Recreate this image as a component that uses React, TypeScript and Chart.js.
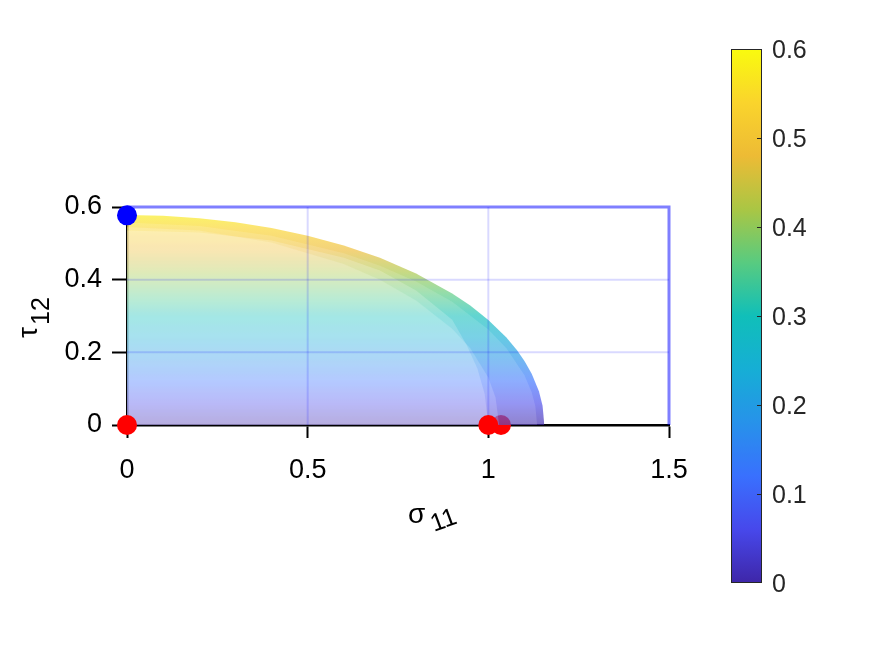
import { useEffect, useRef } from "react";
import { Chart, registerables } from "chart.js";
Chart.register(...registerables);

// ---- data ----
const xTicks = [0, 0.5, 1, 1.5];
const yTicks = [0, 0.2, 0.4, 0.6];
const colorbarTicks = [0, 0.1, 0.2, 0.3, 0.4, 0.5, 0.6];

// outermost envelope
const outerSigma = [0, 0.1, 0.2, 0.3, 0.4, 0.5, 0.6, 0.7, 0.8, 0.9, 0.95, 1.0, 1.05, 1.08, 1.1, 1.12, 1.14, 1.15, 1.155];
const outerTau = [0.578, 0.576, 0.569, 0.558, 0.542, 0.521, 0.494, 0.46, 0.417, 0.362, 0.329, 0.289, 0.241, 0.205, 0.176, 0.141, 0.093, 0.054, 0];

// second envelope
const secondSigma = [0, 0.2, 0.4, 0.6, 0.7, 0.8, 0.9, 1.0, 1.05, 1.1, 1.12, 1.13, 1.135];
const secondTau = [0.557, 0.548, 0.521, 0.473, 0.438, 0.395, 0.339, 0.263, 0.211, 0.137, 0.09, 0.052, 0];

// third envelope
const thirdSigma = [0, 0.2, 0.4, 0.6, 0.7, 0.8, 0.9, 0.95, 1.0, 1.02, 1.03];
const thirdTau = [0.545, 0.535, 0.502, 0.443, 0.4, 0.343, 0.265, 0.211, 0.131, 0.076, 0];

// inner envelope
const innerSigma = [0, 0.2, 0.4, 0.6, 0.7, 0.8, 0.9, 0.94, 0.97, 0.99, 1.0];
const innerTau = [0.535, 0.53, 0.508, 0.46, 0.425, 0.37, 0.29, 0.22, 0.155, 0.085, 0];

// markers
const redSigma = [0, 1.0];
const redTau = [0, 0];
const hiddenRedSigma = [1.035];
const hiddenRedTau = [0];
const blueSigma = [0];
const blueTau = [0.577];

// ---- styling ----
const PARULA: [number, number, number][] = [
  [62, 38, 168], [71, 72, 235], [57, 112, 254], [39, 146, 234], [22, 174, 213],
  [16, 191, 185], [88, 203, 128], [170, 198, 68], [237, 187, 53], [250, 212, 44], [249, 251, 14],
];
const FONT = "'Liberation Sans', Arial, Helvetica, sans-serif";
const CB = { left: 731, right: 762, top: 49, bottom: 583 };
const PLOT = { left: 127, top: 207, right: 669, bottom: 425 };
const W = 875, H = 656;

const pts = (xs: number[], ys: number[]) => xs.map((x, i) => ({ x, y: ys[i] }));

function parulaGradient(ctx: CanvasRenderingContext2D, y0: number, y1: number, alpha: number) {
  const g = ctx.createLinearGradient(0, y0, 0, y1);
  PARULA.forEach((c, i) => {
    g.addColorStop(i / (PARULA.length - 1), `rgba(${c[0]},${c[1]},${c[2]},${alpha})`);
  });
  return g;
}

const INNER_INDEX = 4;

const overlayPlugin = {
  id: "overlay",
  afterDatasetDraw(chart: any, args: any) {
    if (args.index !== INNER_INDEX) return;
    const { ctx, chartArea: a, scales } = chart;
    const xs = scales.x, ys = scales.y;
    ctx.save();
    ctx.strokeStyle = "rgba(0,0,255,0.15)";
    ctx.lineWidth = 2;
    xTicks.forEach((v) => {
      if (v <= xs.min || v >= xs.max) return;
      const px = xs.getPixelForValue(v);
      ctx.beginPath(); ctx.moveTo(px, a.top); ctx.lineTo(px, a.bottom); ctx.stroke();
    });
    yTicks.forEach((v) => {
      if (v <= ys.min || v >= ys.max) return;
      const py = ys.getPixelForValue(v);
      ctx.beginPath(); ctx.moveTo(a.left, py); ctx.lineTo(a.right, py); ctx.stroke();
    });
    ctx.strokeStyle = "rgba(0,0,255,0.5)";
    ctx.lineWidth = 3;
    ctx.beginPath();
    ctx.moveTo(a.left, a.top); ctx.lineTo(a.right, a.top); ctx.lineTo(a.right, a.bottom);
    ctx.stroke();
    ctx.restore();
  },
  afterDraw(chart: any) {
    const { ctx } = chart;
    ctx.save();
    ctx.fillStyle = "#000";
    // y title tau_12
    ctx.save();
    ctx.translate(37, 338);
    ctx.rotate(-Math.PI / 2);
    ctx.textAlign = "left";
    ctx.textBaseline = "alphabetic";
    ctx.font = `28px ${FONT}`;
    ctx.fillText("\u03c4", 0, 0);
    const tw = ctx.measureText("\u03c4").width;
    ctx.font = `25px ${FONT}`;
    ctx.fillText("12", tw + 2, 12);
    ctx.restore();
    // x title sigma_11
    ctx.save();
    ctx.textAlign = "left";
    ctx.textBaseline = "alphabetic";
    ctx.font = `28px ${FONT}`;
    ctx.fillText("\u03c3", 408, 523);
    ctx.font = `25px ${FONT}`;
    ctx.translate(434, 532);
    ctx.rotate(-0.35);
    ctx.fillText("11", 0, 0);
    ctx.restore();

    // colorbar
    const cbMin = colorbarTicks[0];
    const cbMax = colorbarTicks[colorbarTicks.length - 1];
    const toY = (v: number) => CB.bottom - ((v - cbMin) / (cbMax - cbMin)) * (CB.bottom - CB.top);
    ctx.fillStyle = parulaGradient(ctx, CB.bottom, CB.top, 1);
    ctx.fillRect(CB.left, CB.top, CB.right - CB.left, CB.bottom - CB.top);
    ctx.strokeStyle = "#262626";
    ctx.lineWidth = 1;
    ctx.strokeRect(CB.left + 0.5, CB.top + 0.5, CB.right - CB.left - 1, CB.bottom - CB.top - 1);
    ctx.fillStyle = "#262626";
    ctx.font = `25px ${FONT}`;
    ctx.textAlign = "left";
    ctx.textBaseline = "middle";
    colorbarTicks.forEach((v) => {
      const y = toY(v);
      if (v > cbMin && v < cbMax) {
        ctx.beginPath();
        ctx.moveTo(CB.right - 5, Math.round(y) + 0.5);
        ctx.lineTo(CB.right, Math.round(y) + 0.5);
        ctx.stroke();
      }
      ctx.fillText(String(v), CB.right + 10, y + 2);
    });
    ctx.restore();
  },
};

export default function App() {
  const ref = useRef<HTMLCanvasElement | null>(null);
  useEffect(() => {
    if (!ref.current) return;
    const fillFor = (alpha: number) => (c: any) => {
      const chart = c.chart;
      const { chartArea, scales } = chart;
      if (!chartArea) return "transparent";
      const y0 = scales.y.getPixelForValue(colorbarTicks[0]);
      const y1 = scales.y.getPixelForValue(colorbarTicks[colorbarTicks.length - 1]);
      return parulaGradient(chart.ctx, y0, y1, alpha);
    };
    const surface = (data: any[], bg: any, order: number) => ({
      data,
      showLine: true,
      fill: "origin",
      backgroundColor: bg,
      borderWidth: 0,
      borderColor: "transparent",
      pointRadius: 0,
      order,
    });
    const chart = new Chart(ref.current, {
      type: "scatter",
      data: {
        datasets: [
          { data: pts(redSigma, redTau), backgroundColor: "#ff0000", borderWidth: 0, pointRadius: 10, clip: false, order: 0 } as any,
          { data: pts(blueSigma, blueTau), backgroundColor: "#0000ff", borderWidth: 0, pointRadius: 10, clip: false, order: 1 } as any,
          surface(pts(outerSigma, outerTau), fillFor(0.66), 50),
          surface(pts(secondSigma, secondTau), "rgba(255,255,255,0.13)", 40),
          surface(pts(innerSigma, innerTau), "rgba(255,255,255,0.2)", 20),
          surface(pts(thirdSigma, thirdTau), "rgba(255,255,255,0.17)", 30),
          { data: pts(hiddenRedSigma, hiddenRedTau), backgroundColor: "#ff0000", borderWidth: 0, pointRadius: 10, clip: false, order: 60 } as any,
        ],
      },
      options: {
        animation: false,
        responsive: false,
        devicePixelRatio: 1,
        layout: { padding: { left: 0, top: PLOT.top, right: W - PLOT.right, bottom: 0 } },
        plugins: { legend: { display: false }, tooltip: { enabled: false } },
        scales: {
          x: {
            type: "linear",
            min: xTicks[0],
            max: xTicks[xTicks.length - 1],
            afterBuildTicks: (s: any) => { s.ticks = xTicks.map((v) => ({ value: v })); },
            afterFit: (s: any) => { s.height = H - PLOT.bottom; },
            ticks: { color: "#000", font: { size: 27, family: FONT }, padding: 16, maxRotation: 0, autoSkip: false, callback: (v: any) => String(v) },
            grid: { drawOnChartArea: false, drawTicks: true, tickLength: 13, tickWidth: 2, tickColor: "#000" },
            border: { display: true, color: "#000", width: 2.5 },
          },
          y: {
            type: "linear",
            min: yTicks[0],
            max: yTicks[yTicks.length - 1],
            afterBuildTicks: (s: any) => { s.ticks = yTicks.map((v) => ({ value: v })); },
            afterFit: (s: any) => { s.width = PLOT.left; },
            ticks: { color: "#000", font: { size: 27, family: FONT }, padding: 10, autoSkip: false, callback: (v: any) => String(v) },
            grid: { drawOnChartArea: false, drawTicks: true, tickLength: 15, tickWidth: 2, tickColor: "#000" },
            border: { display: true, color: "#000", width: 2.5 },
          },
        },
      },
      plugins: [overlayPlugin],
    } as any);
    return () => chart.destroy();
  }, []);
  return (
    <div style={{ position: "absolute", left: 0, top: 0, width: W, height: H, background: "#fff" }}>
      <canvas ref={ref} width={W} height={H} style={{ display: "block" }} />
    </div>
  );
}
